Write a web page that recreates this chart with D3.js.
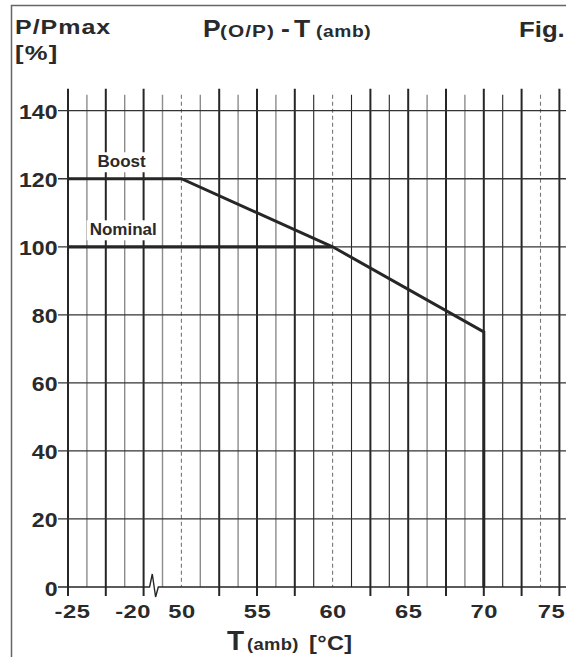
<!DOCTYPE html>
<html>
<head>
<meta charset="utf-8">
<script src="https://cdn.jsdelivr.net/npm/d3@7"></script>
<style>
    body { margin: 0; background: #fff; }
    text { font-family: 'Liberation Sans', Arial, sans-serif; font-weight: bold; fill: #2a2a2a; }
</style>
</head>
<body>
<div id="chart"></div>
<script>
// Curve data (temperature in degC, power in %)
const boostTemp = [-25, 50, 60, 70, 70];
const boostPower = [120, 120, 100, 75, 0];
const nominalTemp = [-25, 60];
const nominalPower = [100, 100];

// Axis ticks and grid
const xTickValues = [-25, -20, 50, 55, 60, 65, 70, 75];
const yTickValues = [0, 20, 40, 60, 80, 100, 120, 140];
const gridTemps = [-25, -23.75, -22.5, -21.25, -20, -18.75,
    50, 51.25, 52.5, 53.75, 55, 56.25, 57.5, 58.75, 60, 61.25, 62.5,
    63.75, 65, 66.25, 67.5, 68.75, 70, 71.25, 72.5, 73.75, 75];
const dashedTemps = [50, 60, 73.75];
const lightTemps = [-23.75, -21.25, -18.75, 51.25, 53.75, 56.25, 66.25, 68.75];

// Curve labels
const labelNames = ['Boost', 'Nominal'];
const labelTemps = [-21.45, -21.35];
const labelPowers = [120, 100];

const width = 566;
const height = 657;

const svg = d3
    .select('#chart')
    .append('svg')
    .attr('width', width)
    .attr('height', height);

// broken x axis: -25..-20 then jump to 50..75
const xScale = d3
    .scaleLinear()
    .domain([-25, -18.75, 48.75, 75])
    .range([68, 162.5, 162.5, 559.4]);
const yScale = d3.scaleLinear().domain([0, 140]).range([587, 110.7]);

// the original lettering is wider than Arial, so stretch it a little
function wideText(parent, x, y, size, sx, str, spacing) {
    return parent.append('text')
        .attr('transform', `translate(${x},${y}) scale(${sx},1)`)
        .attr('font-size', size)
        .attr('letter-spacing', spacing || 0)
        .text(str);
}

// outer frame (cut off at right and bottom)
svg.append('rect')
    .attr('x', 11.5)
    .attr('y', 5.5)
    .attr('width', 600)
    .attr('height', 700)
    .attr('fill', 'none')
    .attr('stroke', '#666')
    .attr('stroke-width', 1.5);

const isMajor = (t) => Math.abs(t / 2.5 - Math.round(t / 2.5)) < 1e-6;

// vertical grid lines
const vGrid = svg.append('g');
gridTemps.forEach((t) => {
    const dashed = dashedTemps.includes(t);
    const light = lightTemps.includes(t);
    const major = isMajor(t) && !dashed;
    vGrid.append('line')
        .attr('x1', xScale(t))
        .attr('x2', xScale(t))
        .attr('y1', major ? yScale(140) - 22 : yScale(140) - 16)
        .attr('y2', major ? yScale(0) + 9 : yScale(0))
        .attr('stroke', dashed ? '#777' : light ? '#8c8c8c' : '#262626')
        .attr('stroke-width', major ? 2 : dashed ? 1.1 : light ? 1.4 : 1.1)
        .attr('stroke-dasharray', dashed ? '4,3' : null);
});

// horizontal grid lines (0 is drawn separately because of the break)
svg.append('g')
    .selectAll('line')
    .data(yTickValues.filter((v) => v > 0))
    .enter()
    .append('line')
    .attr('x1', xScale(-25) - 10)
    .attr('x2', width)
    .attr('y1', (d) => yScale(d))
    .attr('y2', (d) => yScale(d))
    .attr('stroke', '#333')
    .attr('stroke-width', 1.3);

// x axis line with break symbol
const y0 = yScale(0);
const bx = xScale(-20);
svg.append('path')
    .attr('d', `M${xScale(-25) - 10},${y0} L${bx + 6},${y0} L${bx + 8.7},${y0 - 13}` +
        ` L${bx + 12},${y0 + 10} L${bx + 14.7},${y0} L${width},${y0}`)
    .attr('fill', 'none')
    .attr('stroke', '#262626')
    .attr('stroke-width', 1.4);

// y tick labels
const yLabels = svg.append('g');
yTickValues.forEach((v) => {
    wideText(yLabels, xScale(-25) - 10.5, yScale(v) + 8.5, 21, 1.1, v)
        .attr('text-anchor', 'end');
});

// x tick labels (the outer ones are nudged away from the break / edge)
const xNudge = { '-25': 4, '-20': -11, '75': -8.5 };
const xLabels = svg.append('g');
xTickValues.forEach((v) => {
    wideText(xLabels, xScale(v) + (xNudge[v] || 0) + 0.5, yScale(0) + 30.5, 19, 1.25, v, 0.4)
        .attr('text-anchor', 'middle');
});

// curve labels on white boxes
labelNames.forEach((name, i) => {
    const g = svg.append('g');
    const t = g.append('text')
        .attr('x', xScale(labelTemps[i]))
        .attr('y', yScale(labelPowers[i]) - 11.5)
        .attr('text-anchor', 'middle')
        .attr('font-size', 17)
        .text(name);
    const bb = t.node().getBBox();
    g.insert('rect', 'text')
        .attr('x', bb.x - 3)
        .attr('y', bb.y)
        .attr('width', bb.width + 6)
        .attr('height', bb.height + 1)
        .attr('fill', '#fff');
});

// curves
const line = d3.line()
    .x((d) => xScale(d[0]))
    .y((d) => yScale(d[1]));
svg.append('path')
    .datum(nominalTemp.map((t, i) => [t, nominalPower[i]]))
    .attr('d', line)
    .attr('fill', 'none')
    .attr('stroke', '#262626')
    .attr('stroke-width', 3.3);
svg.append('path')
    .datum(boostTemp.map((t, i) => [t, boostPower[i]]))
    .attr('d', line)
    .attr('fill', 'none')
    .attr('stroke', '#262626')
    .attr('stroke-width', 3)
    .attr('stroke-linejoin', 'miter');

// titles
wideText(svg, 15, 34, 20.5, 1.22, 'P/Pmax', 0.8);
wideText(svg, 15, 60, 21, 1.22, '[%]', 1);

wideText(svg, 203, 37, 23, 1.15, 'P');
wideText(svg, 220, 37, 16, 1.3, '(O/P)', 0.8);
wideText(svg, 281, 37, 23, 1.15, '-');
wideText(svg, 294, 37, 23, 1.15, 'T');
wideText(svg, 316, 37, 16, 1.2, '(amb)', 0.5);
wideText(svg, 519, 37, 23, 1.12, 'Fig.');

wideText(svg, 227, 650, 28, 1, 'T');
wideText(svg, 247, 650, 16, 1.15, '(amb)', 0.3);
wideText(svg, 309, 650, 21, 1.12, '[°C]', 0.3);
</script>
</body>
</html>
